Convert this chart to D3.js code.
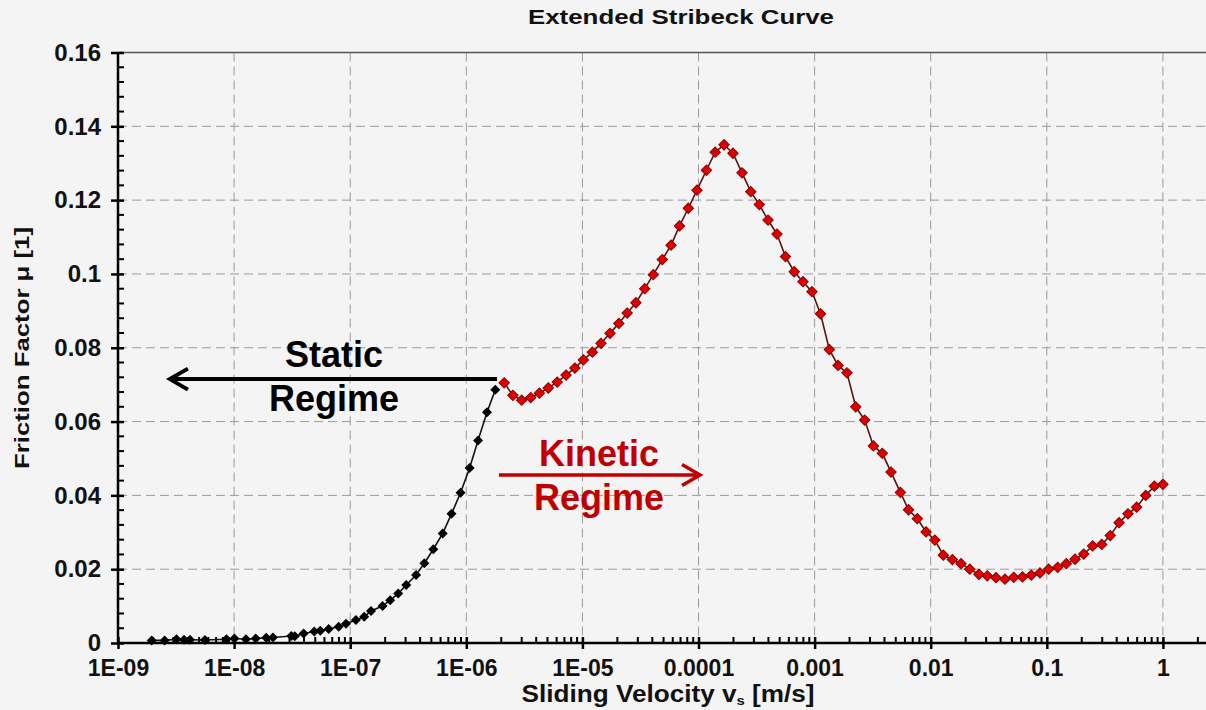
<!DOCTYPE html>
<html>
<head>
<meta charset="utf-8">
<script src="https://cdn.jsdelivr.net/npm/d3@7"></script>
<style>
  html, body { margin: 0; padding: 0; background: #f4f4f4; }
  svg { display: block; }
  text { font-family: "Liberation Sans", Arial, Helvetica, sans-serif; font-weight: bold; }
</style>
</head>
<body>
<svg id="chart" width="1206" height="710"></svg>
<script>
// Static friction branch (sticking, below ~2 µm/s)
const velStatic = [
  1.95e-9, 2.52e-9, 3.19e-9, 3.70e-9, 4.17e-9, 5.61e-9, 8.60e-9, 1.007e-8, 1.265e-8, 1.535e-8,
  1.89e-8, 2.16e-8, 3.11e-8, 3.33e-8, 3.97e-8, 4.90e-8, 5.52e-8, 6.53e-8, 7.96e-8, 9.20e-8,
  1.12e-7, 1.32e-7, 1.51e-7, 1.90e-7, 2.21e-7, 2.59e-7, 3.04e-7, 3.69e-7, 4.35e-7, 5.20e-7,
  6.26e-7, 7.46e-7, 8.92e-7, 1.068e-6, 1.262e-6, 1.508e-6, 1.778e-6
];
const fricStatic = [
  0.0007, 0.0007, 0.0010, 0.0009, 0.0009, 0.0008, 0.0010, 0.0012, 0.0010, 0.0012,
  0.0014, 0.0015, 0.0019, 0.0018, 0.0026, 0.0031, 0.0033, 0.0038, 0.0044, 0.0052,
  0.0062, 0.0071, 0.0087, 0.0100, 0.0116, 0.0134, 0.0157, 0.0184, 0.0216, 0.0254,
  0.0297, 0.0350, 0.0407, 0.0474, 0.0549, 0.0625, 0.0686
];

// Kinetic friction branch (sliding)
const velKinetic = [
  2.12e-6, 2.52e-6, 3.00e-6, 3.59e-6, 4.26e-6, 5.08e-6, 6.07e-6, 7.23e-6, 8.61e-6, 1.019e-5,
  1.217e-5, 1.446e-5, 1.729e-5, 2.06e-5, 2.43e-5, 2.89e-5, 3.44e-5, 4.08e-5, 4.88e-5, 5.80e-5,
  6.86e-5, 8.17e-5, 9.70e-5, 1.170e-4, 1.392e-4, 1.66e-4, 1.98e-4, 2.37e-4, 2.82e-4, 3.34e-4,
  3.97e-4, 4.74e-4, 5.61e-4, 6.67e-4, 7.94e-4, 9.49e-4, 1.124e-3, 1.340e-3, 1.592e-3, 1.90e-3,
  2.26e-3, 2.70e-3, 3.21e-3, 3.83e-3, 4.55e-3, 5.48e-3, 6.44e-3, 7.67e-3, 9.12e-3, 1.085e-2,
  1.284e-2, 1.536e-2, 1.825e-2, 2.17e-2, 2.60e-2, 3.07e-2, 3.65e-2, 4.36e-2, 5.19e-2, 6.17e-2,
  7.35e-2, 8.73e-2, 0.1037, 0.1240, 0.1472, 0.1749, 0.208, 0.248, 0.297, 0.352,
  0.419, 0.500, 0.594, 0.711, 0.844, 1.0
];
const fricKinetic = [
  0.0705, 0.0671, 0.0658, 0.0665, 0.0677, 0.0691, 0.0707, 0.0726, 0.0745, 0.0767,
  0.0788, 0.0812, 0.0839, 0.0866, 0.0894, 0.0922, 0.0960, 0.0998, 0.1039, 0.1078,
  0.1130, 0.1178, 0.1227, 0.1281, 0.1330, 0.1350, 0.1327, 0.1274, 0.1223, 0.1188,
  0.1146, 0.1108, 0.1047, 0.1006, 0.0979, 0.0952, 0.0892, 0.0795, 0.0752, 0.0732,
  0.0640, 0.0604, 0.0534, 0.0514, 0.0463, 0.0408, 0.0361, 0.0337, 0.0301, 0.0279,
  0.0238, 0.0226, 0.0215, 0.0200, 0.0186, 0.0182, 0.0177, 0.0173, 0.0178, 0.0179,
  0.0184, 0.0190, 0.0200, 0.0205, 0.0215, 0.0227, 0.0241, 0.0263, 0.0267, 0.0291,
  0.0326, 0.0350, 0.0368, 0.0400, 0.0425, 0.0430
];

// Axis ticks
const xTickValues = [1e-9, 1e-8, 1e-7, 1e-6, 1e-5, 1e-4, 1e-3, 1e-2, 1e-1, 1];
const xTickLabels = ["1E-09", "1E-08", "1E-07", "1E-06", "1E-05", "0.0001", "0.001", "0.01", "0.1", "1"];
const yTickValues = [0, 0.02, 0.04, 0.06, 0.08, 0.10, 0.12, 0.14, 0.16];
const yTickLabels = ["0", "0.02", "0.04", "0.06", "0.08", "0.1", "0.12", "0.14", "0.16"];

const svg = d3.select("#chart");
const W = 1206, H = 710;
svg.append("rect").attr("width", W).attr("height", H).attr("fill", "#f4f4f4");

const x = d3.scaleLog().domain([1e-9, 2.35]).range([118, 1206]);
const y = d3.scaleLinear().domain([0, 0.16]).range([643, 52.5]);

// minor tick positions: 2..9 of each decade
const xMinor = [];
for (let e = -9; e <= 0; e++) {
  for (let m = 2; m <= 9; m++) {
    const v = m * Math.pow(10, e);
    if (v <= 2.35) xMinor.push(v);
  }
}
const yMinor = d3.range(0, 0.1601, 0.004).filter(v => Math.abs(Math.round(v / 0.02) * 0.02 - v) > 1e-6);

// grid
const grid = svg.append("g").attr("stroke", "#9a9a9a").attr("stroke-width", 1).attr("stroke-dasharray", "9,5");
grid.selectAll("line.h").data(yTickValues.filter(v => v > 0 && v < 0.16)).join("line")
  .attr("x1", x.range()[0]).attr("x2", W)
  .attr("y1", d => y(d)).attr("y2", d => y(d));
grid.selectAll("line.v").data(xTickValues.slice(1)).join("line")
  .attr("x1", d => x(d)).attr("x2", d => x(d))
  .attr("y1", y(0.16)).attr("y2", y(0));

// top border
svg.append("line").attr("x1", x.range()[0]).attr("x2", W)
  .attr("y1", y(0.16)).attr("y2", y(0.16))
  .attr("stroke", "#555").attr("stroke-width", 1.5);

// x axis
const xAxis = svg.append("g").attr("transform", `translate(0,${y(0)})`)
  .call(d3.axisBottom(x).tickValues(xTickValues).tickSize(6).tickPadding(6)
    .tickFormat((d, i) => xTickLabels[i]));
xAxis.select(".domain").attr("stroke", "#000").attr("stroke-width", 2.5).attr("d", `M${x.range()[0]},0H${W}`);
xAxis.selectAll(".tick line").attr("y1", -6).attr("y2", 6).attr("stroke", "#000").attr("stroke-width", 2.5);
xAxis.selectAll(".tick text").attr("font-size", 23).attr("fill", "#111").attr("dy", "0.92em");
svg.append("g").attr("transform", `translate(0,${y(0)})`)
  .selectAll("line").data(xMinor).join("line")
  .attr("x1", d => x(d)).attr("x2", d => x(d)).attr("y1", 0).attr("y2", -6)
  .attr("stroke", "#000").attr("stroke-width", 2);

// y axis
const yAxis = svg.append("g").attr("transform", `translate(${x.range()[0]},0)`)
  .call(d3.axisLeft(y).tickValues(yTickValues).tickSize(7).tickPadding(10)
    .tickFormat((d, i) => yTickLabels[i]));
yAxis.select(".domain").attr("stroke", "#000").attr("stroke-width", 2.5).attr("d", `M0,${y(0)}V${y(0.16)}`);
yAxis.selectAll(".tick line").attr("x1", 6).attr("x2", -7).attr("stroke", "#000").attr("stroke-width", 2.5);
yAxis.selectAll(".tick text").attr("font-size", 24).attr("fill", "#111");
svg.append("g").attr("transform", `translate(${x.range()[0]},0)`)
  .selectAll("line").data(yMinor).join("line")
  .attr("y1", d => y(d)).attr("y2", d => y(d)).attr("x1", 0).attr("x2", 6)
  .attr("stroke", "#000").attr("stroke-width", 2);

// series
const staticPts = velStatic.map((v, i) => [v, fricStatic[i]]);
const kineticPts = velKinetic.map((v, i) => [v, fricKinetic[i]]);
const line = d3.line().x(d => x(d[0])).y(d => y(d[1]));

svg.append("path").datum(staticPts).attr("d", line)
  .attr("fill", "none").attr("stroke", "#111").attr("stroke-width", 1.6);
svg.append("path").datum(kineticPts).attr("d", line)
  .attr("fill", "none").attr("stroke", "#5a1212").attr("stroke-width", 1.6);

svg.append("g").selectAll("path").data(staticPts).join("path")
  .attr("d", d3.symbol().type(d3.symbolSquare).size(50))
  .attr("transform", d => `translate(${x(d[0])},${y(d[1])}) rotate(45)`)
  .attr("fill", "#000");
svg.append("g").selectAll("path").data(kineticPts).join("path")
  .attr("d", d3.symbol().type(d3.symbolSquare).size(54))
  .attr("transform", d => `translate(${x(d[0])},${y(d[1])}) rotate(45)`)
  .attr("fill", "#e00000").attr("stroke", "#8a0000").attr("stroke-width", 1);

// regime annotations
function arrow(g, x1, x2, yy, color, w, dir) {
  g.append("line").attr("x1", x1).attr("x2", x2).attr("y1", yy).attr("y2", yy)
    .attr("stroke", color).attr("stroke-width", w);
  const tip = x2, back = x2 - dir * 18;
  g.append("path").attr("d", `M${back},${yy - 10.5}L${tip},${yy}L${back},${yy + 10.5}`)
    .attr("fill", "none").attr("stroke", color).attr("stroke-width", w).attr("stroke-linejoin", "miter");
}
const ann = svg.append("g");
const staticY = y(0.0715);
arrow(ann, x(1.84e-6), x(2.8e-9), staticY, "#000", 4, -1);
ann.append("text").attr("x", 334).attr("y", 367).attr("text-anchor", "middle")
  .attr("font-size", 36).attr("fill", "#000").text("Static");
ann.append("text").attr("x", 334).attr("y", 411).attr("text-anchor", "middle")
  .attr("font-size", 36).attr("fill", "#000").text("Regime");

const kinY = y(0.0455);
arrow(ann, x(1.91e-6), x(1.03e-4), kinY, "#c00000", 3.5, 1);
ann.append("text").attr("x", 599).attr("y", 466).attr("text-anchor", "middle")
  .attr("font-size", 36).attr("fill", "#c00000").text("Kinetic");
ann.append("text").attr("x", 599).attr("y", 510).attr("text-anchor", "middle")
  .attr("font-size", 36).attr("fill", "#c00000").text("Regime");

// titles
svg.append("text").attr("x", 681).attr("y", 24).attr("text-anchor", "middle")
  .attr("font-size", 21).attr("fill", "#111")
  .attr("textLength", 306).attr("lengthAdjust", "spacingAndGlyphs")
  .text("Extended Stribeck Curve");

const xt = svg.append("text").attr("x", 668).attr("y", 702).attr("text-anchor", "middle")
  .attr("font-size", 23).attr("fill", "#111")
  .attr("textLength", 293).attr("lengthAdjust", "spacingAndGlyphs");
xt.append("tspan").text("Sliding Velocity v");
xt.append("tspan").attr("font-size", 13).attr("dy", 3).text("s");
xt.append("tspan").attr("dy", -3).text(" [m/s]");

svg.append("text").attr("transform", "translate(29,348) rotate(-90)").attr("text-anchor", "middle")
  .attr("font-size", 21).attr("fill", "#111")
  .attr("textLength", 242).attr("lengthAdjust", "spacingAndGlyphs")
  .text("Friction Factor μ [1]");
</script>
</body>
</html>
